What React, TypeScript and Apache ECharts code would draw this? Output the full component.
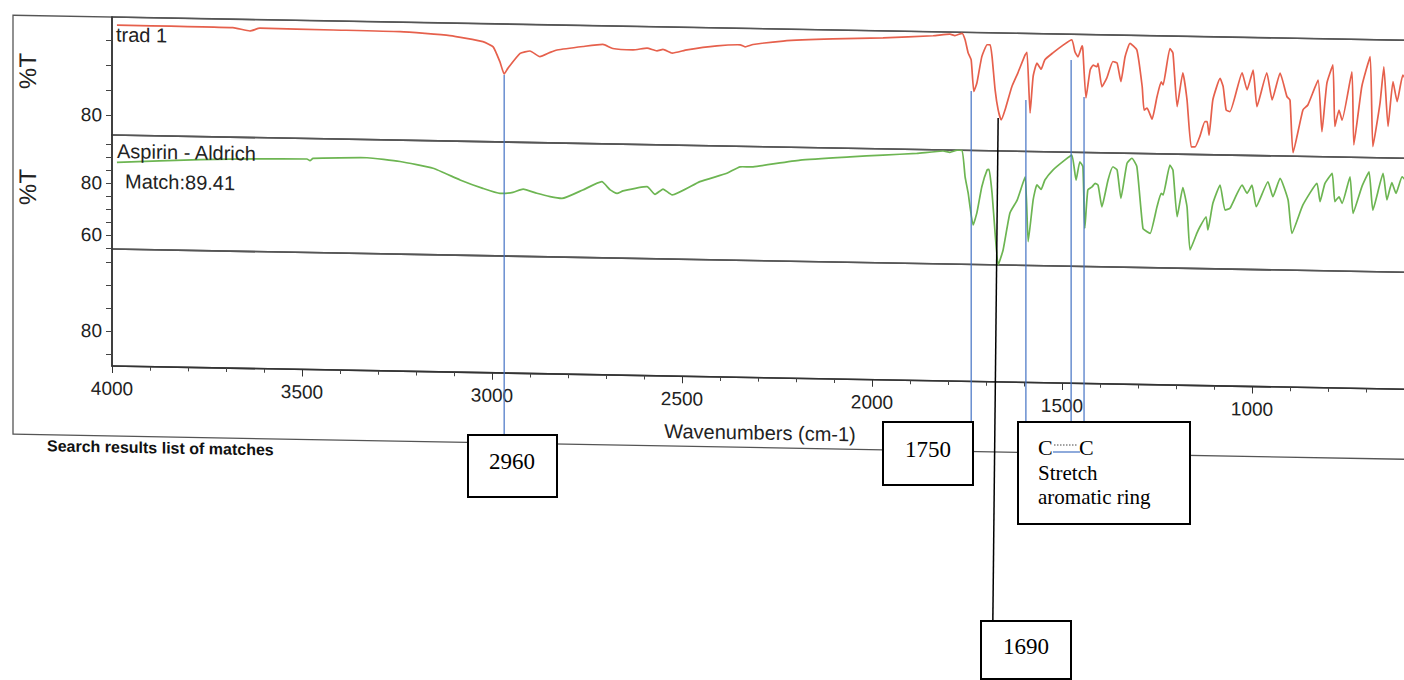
import React, { useEffect, useRef } from "react";
import * as echarts from "echarts";

// ---------------- DATA ----------------
const xTickLabels = [4000, 3500, 3000, 2500, 2000, 1500, 1000];

// trad 1 (red)
const redWave = [3987, 3682, 3637, 3611, 3418, 3242, 3111, 3024, 2997, 2979, 2968, 2958, 2926, 2900, 2874, 2847, 2829, 2760, 2708, 2682, 2629, 2592, 2566, 2550, 2526, 2487, 2408, 2347, 2334, 2313, 2234, 2103, 1971, 1839, 1795, 1782, 1763, 1755, 1747, 1739, 1732, 1724, 1711, 1697, 1689, 1684, 1676, 1668, 1660, 1650, 1632, 1616, 1597, 1592, 1584, 1576, 1566, 1555, 1545, 1524, 1497, 1474, 1466, 1458, 1447, 1445, 1437, 1426, 1418, 1408, 1405, 1395, 1382, 1366, 1355, 1345, 1334, 1321, 1303, 1289, 1284, 1276, 1263, 1250, 1239, 1234, 1216, 1208, 1197, 1182, 1171, 1160, 1150, 1137, 1124, 1118, 1113, 1103, 1084, 1076, 1068, 1058, 1026, 1013, 997, 987, 961, 947, 926, 908, 900, 892, 866, 853, 826, 816, 803, 787, 782, 771, 763, 737, 732, 711, 689, 682, 663, 653, 642, 629, 618, 603, 585];
const redT = [98.0, 97.9, 97.3, 97.9, 97.8, 97.7, 97.1, 96.0, 95.0, 92.0, 89.6, 90.8, 93.8, 94.3, 93.2, 94.1, 94.6, 95.4, 95.9, 95.1, 94.9, 95.3, 94.8, 95.1, 94.4, 95.1, 96.0, 96.3, 95.9, 96.4, 97.2, 97.8, 98.2, 98.8, 99.2, 98.9, 99.4, 98.1, 95.5, 94.1, 87.8, 89.5, 94.8, 97.2, 97.2, 94.8, 88.2, 84.2, 82.2, 84.2, 88.9, 91.7, 95.3, 95.8, 83.7, 91.0, 93.7, 92.5, 94.4, 95.8, 97.4, 98.5, 96.1, 95.1, 97.3, 96.5, 86.9, 92.5, 93.5, 93.2, 93.9, 89.2, 91.0, 94.3, 94.0, 90.3, 95.3, 98.0, 96.7, 89.4, 84.7, 85.1, 82.9, 87.4, 90.4, 89.8, 97.1, 96.2, 85.5, 92.3, 86.9, 77.5, 77.5, 79.7, 82.6, 82.6, 79.9, 87.0, 91.3, 89.7, 85.0, 84.7, 92.5, 89.1, 93.1, 85.8, 92.6, 87.2, 92.6, 87.9, 87.2, 76.7, 85.3, 86.3, 91.3, 81.0, 90.7, 94.4, 82.1, 85.4, 83.4, 93.1, 78.5, 90.2, 96.2, 78.2, 87.0, 94.2, 82.3, 91.3, 87.3, 92.6, 90.0];

// Aspirin - Aldrich (green)
const greenWave = [3987, 3768, 3487, 3479, 3471, 3329, 3242, 3155, 3084, 3024, 2979, 2945, 2918, 2882, 2847, 2816, 2761, 2711, 2689, 2671, 2655, 2592, 2571, 2550, 2526, 2453, 2382, 2347, 2313, 2189, 2058, 1971, 1882, 1813, 1795, 1776, 1763, 1755, 1747, 1734, 1724, 1711, 1697, 1692, 1684, 1676, 1668, 1655, 1637, 1618, 1597, 1589, 1576, 1566, 1555, 1545, 1524, 1492, 1474, 1463, 1453, 1445, 1440, 1432, 1421, 1413, 1405, 1395, 1379, 1366, 1355, 1345, 1329, 1316, 1303, 1287, 1276, 1268, 1250, 1239, 1234, 1216, 1208, 1197, 1182, 1171, 1163, 1145, 1137, 1121, 1116, 1103, 1084, 1071, 1058, 1026, 1013, 1000, 989, 958, 945, 926, 905, 895, 866, 829, 821, 808, 789, 782, 771, 763, 742, 734, 711, 692, 682, 655, 645, 632, 621, 605, 585];
const greenT = [88.0, 89.6, 90.6, 90.0, 90.9, 91.5, 90.3, 87.9, 83.6, 80.5, 78.7, 79.2, 80.5, 79.0, 77.8, 77.2, 80.6, 83.9, 80.8, 79.5, 80.5, 82.3, 79.4, 81.5, 79.3, 84.6, 88.0, 90.6, 90.7, 93.6, 95.2, 96.1, 97.0, 98.1, 97.6, 98.5, 98.5, 88.3, 82.1, 69.8, 74.5, 84.6, 91.1, 91.3, 82.1, 66.8, 54.6, 60.4, 74.7, 79.7, 88.7, 63.8, 79.8, 85.7, 84.0, 87.6, 91.5, 95.5, 97.4, 87.8, 94.9, 93.0, 69.3, 84.1, 85.3, 86.7, 86.0, 77.7, 88.0, 93.2, 92.0, 81.1, 94.6, 96.6, 93.4, 69.7, 68.4, 67.8, 78.1, 83.3, 82.7, 94.2, 92.3, 74.4, 85.7, 78.3, 61.7, 68.2, 70.7, 74.6, 69.5, 79.8, 86.9, 77.3, 78.0, 87.0, 83.9, 87.1, 78.8, 88.5, 82.8, 89.9, 81.6, 68.8, 79.8, 88.2, 81.2, 88.3, 92.2, 81.3, 83.2, 80.7, 91.0, 76.9, 87.2, 93.0, 78.3, 92.5, 82.3, 89.0, 84.9, 91.3, 88.0];

// y tick / label values per panel
const topTicks = [80, 85, 90, 95];
const topLabels = [80];
const midTicks = [55, 60, 65, 70, 75, 80, 85, 90, 95];
const midLabels = [60, 80];
const botTicks = [75, 80, 85, 90, 95];
const botLabels = [80];

// annotation marker wavenumbers (line top / line bottom)
const annotationTopWave = [2968, 1739, 1668, 1595, 1476, 1442];
const annotationBottomWave = [2968, 1739, 1682, 1595, 1476, 1442];
const annotationLabels = ["2960", "1750", "1690", "C····C", "", ""];

// ---------------- STYLE ----------------
const SANS = '"Liberation Sans", Arial, Helvetica, sans-serif';
const SERIF = '"Liberation Serif", "Times New Roman", serif';

function scanOption(): any {
  const gridBase = { left: 112, width: 1330, show: true, borderColor: "#555", borderWidth: 1.6, backgroundColor: "transparent" };
  const grids = [
    { ...gridBase, top: 17, height: 118 },
    { ...gridBase, top: 135, height: 114 },
    { ...gridBase, top: 249, height: 117 },
  ];
  const xBase = { type: "value", min: 500, max: 4000, inverse: true, interval: 500, splitLine: { show: false } };
  const xAxes = [
    { ...xBase, gridIndex: 0, show: false },
    { ...xBase, gridIndex: 1, show: false },
    {
      ...xBase,
      gridIndex: 2,
      axisLine: { show: true, lineStyle: { color: "#333", width: 1.6 } },
      axisTick: { show: true, length: 7, lineStyle: { color: "#333", width: 1 } },
      minorTick: { show: true, splitNumber: 5, length: 4, lineStyle: { color: "#444", width: 1 } },
      minorSplitLine: { show: false },
      axisLabel: {
        show: true,
        fontFamily: SANS,
        fontSize: 19,
        color: "#222",
        margin: 13,
        formatter: (v: number) => (xTickLabels.includes(v) ? String(v) : ""),
      },
    },
  ];
  const yAx = (gridIndex: number, min: number, max: number, ticks: number[], labels: number[]) => ({
    type: "value",
    gridIndex,
    min,
    max,
    axisLine: { show: true, lineStyle: { color: "#333", width: 1.6 } },
    axisTick: { show: true, length: 6, customValues: ticks, lineStyle: { color: "#444", width: 1 } },
    axisLabel: { show: true, customValues: labels, fontFamily: SANS, fontSize: 19, color: "#222", margin: 10 },
    splitLine: { show: false },
  });
  const yAxes = [
    yAx(0, 76, 99.6, topTicks, topLabels),
    yAx(1, 54.6, 98.5, midTicks, midLabels),
    yAx(2, 72.4, 97.8, botTicks, botLabels),
  ];
  const redData = redWave.map((w, i) => [w, redT[i]]);
  const greenData = greenWave.map((w, i) => [w, greenT[i]]);
  const txt = (x: number, y: number, text: string, extra: any = {}) => ({
    type: "text",
    x,
    y,
    silent: true,
    z: 5,
    ...extra,
    style: { text, fontFamily: SANS, fontSize: 20, fill: "#222", textAlign: "left", textVerticalAlign: "middle", ...(extra.style || {}) },
  });
  return {
    animation: false,
    backgroundColor: "transparent",
    grid: grids,
    xAxis: xAxes,
    yAxis: yAxes,
    series: [
      {
        type: "line",
        name: "trad 1",
        xAxisIndex: 0,
        yAxisIndex: 0,
        data: redData,
        showSymbol: false,
        symbol: "none",
        smooth: 0.15,
        lineStyle: { color: "#e6604c", width: 1.7 },
        silent: true,
      },
      {
        type: "line",
        name: "Aspirin - Aldrich",
        xAxisIndex: 1,
        yAxisIndex: 1,
        data: greenData,
        showSymbol: false,
        symbol: "none",
        smooth: 0.15,
        lineStyle: { color: "#6db552", width: 1.7 },
        silent: true,
      },
    ],
    graphic: [
      { type: "rect", silent: true, shape: { x: 13, y: 17, width: 1600, height: 419 }, style: { fill: "none", stroke: "#555", lineWidth: 1.3 } },
      { ...txt(28, 72.5, "%T", { rotation: Math.PI / 2, style: { fontSize: 24, textAlign: "center" } }) },
      { ...txt(28, 188.5, "%T", { rotation: Math.PI / 2, style: { fontSize: 24, textAlign: "center" } }) },
      txt(116, 34.5, "trad 1"),
      txt(117, 151, "Aspirin - Aldrich"),
      txt(125, 181, "Match:89.41"),
      txt(760, 421, "Wavenumbers (cm-1)", { style: { textAlign: "center" } }),
      txt(47, 447, "Search results list of matches", { style: { fontSize: 16, fontWeight: "bold", fill: "#111" } }),
    ],
  };
}

function overlayOption(): any {
  const lineTops = [75, 91, 118, 100, 60, 97];
  const lineBottoms = [435, 422, 621, 422, 422, 422];
  const lineColors = ["#4472c4", "#4472c4", "#000000", "#4472c4", "#4472c4", "#4472c4"];
  const series = annotationTopWave.map((w, i) => ({
    type: "line",
    name: annotationLabels[i] || "marker",
    data: [
      [w, lineTops[i]],
      [annotationBottomWave[i], lineBottoms[i]],
    ],
    symbol: "none",
    showSymbol: false,
    clip: false,
    silent: true,
    lineStyle: { color: lineColors[i], width: i === 2 ? 1.5 : 1.2 },
  }));
  const box = (x: number, y: number, w: number, h: number) => ({
    type: "rect",
    silent: true,
    z: 10,
    shape: { x, y, width: w, height: h },
    style: { fill: "#fff", stroke: "#000", lineWidth: 2 },
  });
  const t = (x: number, y: number, text: string, size: number, align = "center") => ({
    type: "text",
    silent: true,
    z: 11,
    x,
    y,
    style: { text, fontFamily: SERIF, fontSize: size, fill: "#000", textAlign: align, textVerticalAlign: "middle" },
  });
  return {
    animation: false,
    backgroundColor: "transparent",
    grid: { left: 112, width: 1330, top: 0, height: 680 },
    xAxis: { type: "value", min: 500, max: 4000, inverse: true, show: false },
    yAxis: { type: "value", min: 0, max: 680, inverse: true, show: false },
    series,
    graphic: [
      box(468, 435, 89, 62),
      t(512, 461, annotationLabels[0], 23),
      box(883, 422, 90, 63),
      t(928, 449, annotationLabels[1], 23),
      box(981, 621, 90, 58),
      t(1026, 646, annotationLabels[2], 23),
      box(1018, 422, 172, 102),
      t(1038, 447, "C", 22, "left"),
      t(1079, 447, "C", 22, "left"),
      { type: "line", silent: true, z: 11, shape: { x1: 1054, y1: 445, x2: 1078, y2: 445 }, style: { stroke: "#444", lineWidth: 1, lineDash: [1.5, 1.5] } },
      { type: "line", silent: true, z: 11, shape: { x1: 1053, y1: 452, x2: 1080, y2: 452 }, style: { stroke: "#4472c4", lineWidth: 1.2 } },
      t(1038, 473, "Stretch", 21, "left"),
      t(1038, 497, "aromatic ring", 21, "left"),
    ],
  };
}

export default function App() {
  const scanRef = useRef<HTMLDivElement>(null);
  const overRef = useRef<HTMLDivElement>(null);
  useEffect(() => {
    const scan = echarts.init(scanRef.current!, undefined, { renderer: "svg" });
    scan.setOption(scanOption());
    const over = echarts.init(overRef.current!, undefined, { renderer: "svg" });
    over.setOption(overlayOption());
    return () => {
      scan.dispose();
      over.dispose();
    };
  }, []);
  return (
    <div style={{ position: "fixed", left: 0, top: 0, width: 1404, height: 680, overflow: "hidden", background: "#fff" }}>
      <div
        ref={scanRef}
        style={{
          position: "absolute",
          left: 0,
          top: 0,
          width: 1460,
          height: 680,
          transform: "skewY(1.03deg)",
          transformOrigin: "112px 0px",
        }}
      />
      <div ref={overRef} style={{ position: "absolute", left: 0, top: 0, width: 1460, height: 680, pointerEvents: "none" }} />
    </div>
  );
}
